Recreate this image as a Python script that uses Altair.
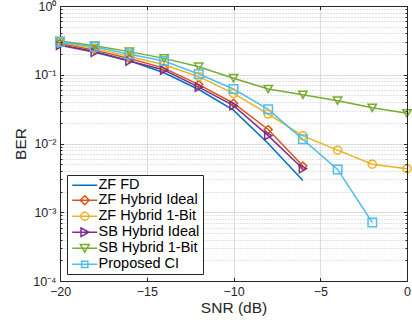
import altair as alt
import pandas as pd

# ---- data ----
snr = [-20, -18, -16, -14, -12, -10, -8, -6, -4, -2, 0]
series_names = ["ZF FD", "ZF Hybrid Ideal", "ZF Hybrid 1-Bit",
                "SB Hybrid Ideal", "SB Hybrid 1-Bit", "Proposed CI"]
ber_zf_fd = [0.272, 0.218, 0.160, 0.107, 0.061, 0.0305, 0.0100, 0.0029]
ber_zf_hyb_ideal = [0.285, 0.228, 0.172, 0.125, 0.072, 0.0385, 0.0160, 0.0047]
ber_zf_hyb_1bit = [0.295, 0.242, 0.185, 0.140, 0.094, 0.0535, 0.0268, 0.0129, 0.0080, 0.0050, 0.0043]
ber_sb_hyb_ideal = [0.268, 0.212, 0.158, 0.117, 0.066, 0.0355, 0.0130, 0.0043]
ber_sb_hyb_1bit = [0.310, 0.265, 0.217, 0.173, 0.131, 0.089, 0.062, 0.051, 0.042, 0.033, 0.0275]
ber_proposed_ci = [0.300, 0.256, 0.198, 0.158, 0.1025, 0.062, 0.0314, 0.0115, 0.0042, 0.00071]

x_major = [-20, -15, -10, -5, 0]
y_major = [1e-4, 1e-3, 1e-2, 1e-1, 1]
y_minor = [m * 10.0 ** e for e in range(-4, 0) for m in range(2, 10)]

# ---- styling ----
colors = ["#0072BD", "#D95319", "#EDB120", "#7E2F8E", "#77AC30", "#4DBEEE"]
marker_shapes = ["circle", "diamond", "circle", "triangle-right", "triangle-down", "square"]
marker_sizes = [60, 72, 60, 70, 70, 44]
# legend glyphs: a line with the marker on it (unit = 6.25 px), shifted right by 1.2 units
legend_paths = [
    "M-0.8,0L3.2,0",
    "M-0.8,0L3.2,0M0.48,0L1.2,-0.72L1.92,0L1.2,0.72Z",
    "M-0.8,0L3.2,0M0.56,0A0.64,0.64,0,1,0,1.84,0A0.64,0.64,0,1,0,0.56,0Z",
    "M-0.8,0L3.2,0M0.6,-0.68L1.88,0L0.6,0.68Z",
    "M-0.8,0L3.2,0M0.5,-0.6L1.9,-0.6L1.2,0.62Z",
    "M-0.8,0L3.2,0M0.7,-0.5L1.7,-0.5L1.7,0.5L0.7,0.5Z",
]

all_ber = [ber_zf_fd, ber_zf_hyb_ideal, ber_zf_hyb_1bit,
           ber_sb_hyb_ideal, ber_sb_hyb_1bit, ber_proposed_ci]
rows = []
for name, vals in zip(series_names, all_ber):
    for s, b in zip(snr, vals):
        rows.append({"series": name, "snr": s, "ber": b})
df = pd.DataFrame(rows)

W, H = 347, 275
FONT = "Liberation Sans"
DARK = "#262626"

xscale = alt.Scale(domain=[-20, 0], nice=False, zero=False)
yscale = alt.Scale(type="log", domain=[1e-4, 1], nice=False)
cscale = alt.Scale(domain=series_names, range=colors)

major_test = "abs(log(datum.value)/LN10 - round(log(datum.value)/LN10)) < 1e-6"
label_expr = ("(" + major_test + ") ? '10' + ['⁰','⁻¹','⁻²','⁻³','⁻⁴'][-round(log(datum.value)/LN10)] : ''")

ax_xa = alt.Axis(orient="bottom", values=x_major, grid=True, gridColor="#dcdcdc", gridWidth=1,
                 ticks=False, domain=True, domainColor=DARK, domainWidth=1,
                 labelFont=FONT, labelFontSize=12.5, labelColor=DARK, labelPadding=4,
                 labelFlush=False, labelOverlap=False,
                 title="SNR (dB)", titleFont=FONT, titleFontSize=15.5, titleFontWeight="normal",
                 titleColor=DARK, titlePadding=3, zindex=0)
ax_ya = alt.Axis(orient="left", values=y_major + y_minor, grid=True,
                 gridColor={"condition": {"test": major_test, "value": "#dcdcdc"}, "value": "#c4c4c4"},
                 gridDash={"condition": {"test": major_test, "value": []}, "value": [1, 2]},
                 gridWidth=1, ticks=False, domain=True, domainColor=DARK, domainWidth=1,
                 labelExpr=label_expr, labelFont=FONT, labelFontSize=12.5, labelColor=DARK,
                 labelPadding=4, labelFlush=False, labelOverlap=False,
                 title="BER", titleFont=FONT, titleFontSize=15.5, titleFontWeight="normal",
                 titleColor=DARK, titlePadding=4, zindex=0)


def tick_axis(orient, offset, values, size, domain=False):
    return alt.Axis(orient=orient, offset=offset, values=values, ticks=True, tickSize=size,
                    tickColor=DARK, tickWidth=1, labels=False, grid=False, domain=domain,
                    domainColor=DARK, domainWidth=1, title=None, zindex=1)


base = alt.Chart(df)

lines = base.mark_line(strokeWidth=1.5).encode(
    x=alt.X("snr:Q", scale=xscale, axis=ax_xa),
    y=alt.Y("ber:Q", scale=yscale, axis=ax_ya),
    color=alt.Color("series:N", scale=cscale, legend=None),
    detail="series:N",
)

points = base.transform_filter(alt.datum.series != "ZF FD").mark_point(
    filled=False, strokeWidth=1.5, opacity=1
).encode(
    x=alt.X("snr:Q", scale=xscale, axis=tick_axis("top", -H, x_major, 3.5)),
    y=alt.Y("ber:Q", scale=yscale, axis=tick_axis("right", -W, y_major, 3.5)),
    color=alt.Color("series:N", scale=cscale, legend=None),
    shape=alt.Shape("series:N", scale=alt.Scale(domain=series_names, range=marker_shapes), legend=None),
    size=alt.Size("series:N", scale=alt.Scale(domain=series_names, range=marker_sizes), legend=None),
)

legend_def = dict(orient="none", legendX=7, legendY=169, title=None,
                  strokeColor=DARK, fillColor="white", padding=3,
                  symbolSize=156.25, symbolStrokeWidth=1.5, symbolOpacity=1,
                  labelFont=FONT, labelFontSize=14.5, labelColor="black",
                  labelOffset=14, rowPadding=0, labelLimit=300)

legend_layer = base.transform_filter("datum.snr > 100").mark_point(
    filled=False, strokeWidth=1.5
).encode(
    x=alt.X("snr:Q", scale=xscale, axis=tick_axis("bottom", -H, x_major, 3.5, domain=True)),
    y=alt.Y("ber:Q", scale=yscale, axis=tick_axis("left", -W, y_major, 3.5, domain=True)),
    color=alt.Color("series:N", scale=cscale, legend=alt.Legend(**legend_def)),
    shape=alt.Shape("series:N", scale=alt.Scale(domain=series_names, range=legend_paths),
                    legend=alt.Legend(**legend_def)),
)

minor_left = base.transform_filter("datum.snr > 100").mark_point().encode(
    x=alt.X("snr:Q", scale=xscale, axis=None),
    y=alt.Y("ber:Q", scale=yscale, axis=tick_axis("right", -W, y_minor, 2)),
)
minor_right = base.transform_filter("datum.snr > 100").mark_point().encode(
    x=alt.X("snr:Q", scale=xscale, axis=None),
    y=alt.Y("ber:Q", scale=yscale, axis=tick_axis("left", -W, y_minor, 2)),
)

chart = alt.layer(lines, points, legend_layer, minor_left, minor_right).resolve_scale(
    color="independent", shape="independent"
).resolve_axis(
    x="independent", y="independent"
).properties(
    width=W, height=H,
    padding={"left": 60, "top": 6, "right": 5, "bottom": 43},
    autosize=alt.AutoSizeParams(type="none"),
).configure_view(stroke=None).configure(background="white")

chart.save("out.html", embed_options={"renderer": "svg", "actions": False})
